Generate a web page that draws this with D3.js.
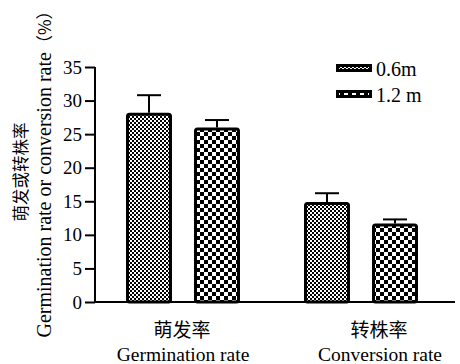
<!DOCTYPE html>
<html>
<head>
<meta charset="utf-8">
<script src="https://cdn.jsdelivr.net/npm/d3@7"></script>
<style>
  html, body { margin: 0; padding: 0; background: #fff; }
  svg { display: block; }
</style>
</head>
<body>
<svg id="chart" width="460" height="364"></svg>
<script>
// Categories and series
const groupsZh = ["萌发率", "转株率"];
const groupsEn = ["Germination rate", "Conversion rate"];
const seriesNames = ["0.6m", "1.2 m"];

// Mean values (%) and standard errors per series, in group order
const values06 = [28.2, 14.9];
const values12 = [26.0, 11.7];
const errors06 = [2.6, 1.3];
const errors12 = [1.1, 0.6];

const yTicks = [0, 5, 10, 15, 20, 25, 30, 35];

const seriesValues = [values06, values12];
const seriesErrors = [errors06, errors12];

const SERIF = "'Liberation Serif', 'Times New Roman', 'DejaVu Serif', serif";
const CJK = "'Noto Sans CJK SC', 'Noto Sans CJK JP', sans-serif";

const svg = d3.select("#chart");

// Hatch patterns: fine checkerboard for 0.6m, coarse for 1.2 m
const defs = svg.append("defs");
function checker(id, cell) {
  const p = defs.append("pattern")
    .attr("id", id)
    .attr("patternUnits", "userSpaceOnUse")
    .attr("width", cell * 2).attr("height", cell * 2);
  p.append("rect").attr("width", cell * 2).attr("height", cell * 2).attr("fill", "#fff");
  p.append("rect").attr("x", 0).attr("y", 0).attr("width", cell).attr("height", cell).attr("fill", "#000");
  p.append("rect").attr("x", cell).attr("y", cell).attr("width", cell).attr("height", cell).attr("fill", "#000");
}
checker("pat06", 2);
checker("pat12", 4);
const patterns = ["url(#pat06)", "url(#pat12)"];

// Scales
const y = d3.scaleLinear().domain([0, 35]).range([302, 67]);
const x0 = d3.scaleBand().domain(groupsZh).range([94, 450]).paddingInner(0).paddingOuter(0);
const x1 = d3.scaleBand().domain(seriesNames).range([32, 146]).paddingInner(22 / 68).paddingOuter(0);

// Y axis
const yAxis = d3.axisLeft(y).tickValues(yTicks).tickSize(10).tickPadding(3).tickFormat(d3.format("d"));
const gy = svg.append("g").attr("transform", "translate(95,0)").call(yAxis);
gy.attr("font-family", null).attr("font-size", null);
gy.select(".domain").remove();
gy.selectAll(".tick line").attr("stroke", "#000").attr("stroke-width", 2);
gy.selectAll(".tick text")
  .style("font-family", SERIF)
  .style("font-size", "19px")
  .attr("fill", "#000");
svg.append("line")
  .attr("x1", 95).attr("x2", 95)
  .attr("y1", y(35)).attr("y2", y(0) + 1)
  .attr("stroke", "#000").attr("stroke-width", 2);

// X axis baseline
svg.append("line")
  .attr("x1", 94).attr("x2", 455)
  .attr("y1", y(0)).attr("y2", y(0))
  .attr("stroke", "#000").attr("stroke-width", 2);

// Bars and error bars
const rows = [];
groupsZh.forEach((g, gi) => {
  seriesNames.forEach((s, si) => {
    rows.push({ g, s, si, v: seriesValues[si][gi], e: seriesErrors[si][gi] });
  });
});
const cx = d => x0(d.g) + x1(d.s) + x1.bandwidth() / 2;

const barG = svg.append("g");
// upper error whiskers, drawn before the bars
barG.selectAll(".err")
  .data(rows).enter().append("line")
  .attr("x1", cx).attr("x2", cx)
  .attr("y1", d => y(d.v))
  .attr("y2", d => y(d.v + d.e))
  .attr("stroke", "#000").attr("stroke-width", 2);
barG.selectAll(".cap")
  .data(rows).enter().append("line")
  .attr("x1", d => cx(d) - 12)
  .attr("x2", d => cx(d) + 12)
  .attr("y1", d => y(d.v + d.e))
  .attr("y2", d => y(d.v + d.e))
  .attr("stroke", "#000").attr("stroke-width", 2);

barG.selectAll(".bar")
  .data(rows).enter().append("rect")
  .attr("x", d => x0(d.g) + x1(d.s) + 1.5)
  .attr("y", d => y(d.v) + 1.5)
  .attr("width", x1.bandwidth() - 3)
  .attr("height", d => y(0) - y(d.v) - 1.5)
  .attr("rx", 2)
  .attr("fill", d => patterns[d.si])
  .attr("stroke", "#000").attr("stroke-width", 3);

// Legend
const legend = svg.append("g");
seriesNames.forEach((s, i) => {
  const ly = 64 + i * 26;
  legend.append("rect")
    .attr("x", 337.5).attr("y", ly + 1.5)
    .attr("width", 33).attr("height", 5)
    .attr("fill", patterns[i])
    .attr("stroke", "#000").attr("stroke-width", 3);
  legend.append("text")
    .style("font-family", SERIF)
    .style("font-size", "20px")
    .attr("x", 376).attr("y", ly + 12)
    .attr("fill", "#000")
    .text(s);
});

// Category labels
const labelShift = [-1, 18];
groupsZh.forEach((g, gi) => {
  const lx = x0(g) + x0.bandwidth() / 2 + labelShift[gi];
  svg.append("text")
    .style("font-family", CJK)
    .style("font-size", "19px")
    .attr("x", lx).attr("y", 337)
    .attr("text-anchor", "middle")
    .attr("fill", "#000")
    .text(g);
  svg.append("text")
    .style("font-family", SERIF)
    .style("font-size", "19.5px")
    .attr("x", lx + 1).attr("y", 361)
    .attr("text-anchor", "middle")
    .attr("fill", "#000")
    .text(groupsEn[gi]);
});

// Y axis title (two lines, rotated)
svg.append("text")
  .style("font-family", CJK)
  .style("font-size", "16.5px")
  .attr("transform", "translate(27,172) rotate(-90)")
  .attr("text-anchor", "middle")
  .attr("fill", "#000")
  .text("萌发或转株率");
const t2 = svg.append("text")
  .attr("transform", "translate(51,170) rotate(-90)")
  .attr("text-anchor", "middle")
  .attr("fill", "#000");
t2.append("tspan").style("font-family", SERIF).style("font-size", "20px")
  .text("Germination rate or conversion rate");
t2.append("tspan").style("font-family", CJK).style("font-size", "17px").text("（%）");
</script>
</body>
</html>
